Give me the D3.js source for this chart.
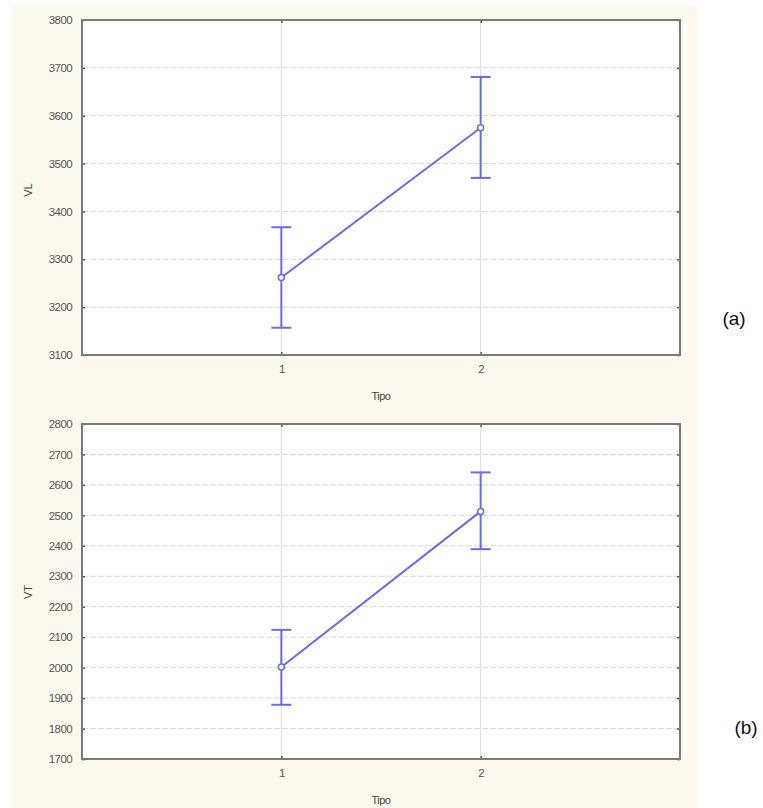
<!DOCTYPE html>
<html><head><meta charset="utf-8">
<script src="https://cdn.jsdelivr.net/npm/d3@7"></script>
<style>body{margin:0;background:#fff}svg{display:block}</style>
</head><body>
<script>
const categories = [1, 2];
const vlMeans = [3262, 3575];
const vlLow = [3157, 3470];
const vlHigh = [3367, 3681];
const vtMeans = [2002, 2513];
const vtLow = [1878, 2389];
const vtHigh = [2124, 2641];
const vlTicks = [3100,3200,3300,3400,3500,3600,3700,3800];
const vtTicks = [1700,1800,1900,2000,2100,2200,2300,2400,2500,2600,2700,2800];

const W = 763, H = 808;
const svg = d3.select("body").append("svg").attr("width", W).attr("height", H);

const panels = [
  {bg:[12,6,685,402], plot:[82,20,680,355], dom:[3100,3800], ticks:vlTicks, m:vlMeans, lo:vlLow, hi:vlHigh, ylab:"VL", xlabY:400, tickY:373, tag:"(a)", tagX:734, tagY:325, ylabY:190},
  {bg:[12,408,685,400], plot:[82,424,680,759], dom:[1700,2800], ticks:vtTicks, m:vtMeans, lo:vtLow, hi:vtHigh, ylab:"VT", xlabY:804, tickY:777, tag:"(b)", tagX:746, tagY:734, ylabY:592}
];

const blue = "#6b6bea";
panels.forEach(p => {
  const g = svg.append("g");
  g.append("rect").attr("x",p.bg[0]).attr("y",p.bg[1]).attr("width",p.bg[2]).attr("height",p.bg[3]).attr("fill","#fdf9ef");
  const [x0,y0,x1,y1] = p.plot;
  g.append("rect").attr("x",x0).attr("y",y0).attr("width",x1-x0).attr("height",y1-y0).attr("fill","#fff");
  const x = d3.scaleLinear().domain([0,3]).range([x0,x1]);
  const y = d3.scaleLinear().domain(p.dom).range([y1,y0]);
  // grid
  g.selectAll(".hg").data(p.ticks.slice(1,-1)).join("line")
    .attr("x1",x0).attr("x2",x1).attr("y1",d=>y(d)).attr("y2",d=>y(d))
    .attr("stroke","#d8d8d8").attr("stroke-width",1).attr("stroke-dasharray","6,2");
  g.selectAll(".vg").data(categories).join("line")
    .attr("x1",d=>x(d)).attr("x2",d=>x(d)).attr("y1",y0).attr("y2",y1)
    .attr("stroke","#dcdcdc").attr("stroke-width",1);
  // axes
  const yl = g.append("g").attr("transform",`translate(${x0},0)`)
    .call(d3.axisLeft(y).tickValues(p.ticks).tickSize(-3).tickPadding(10).tickFormat(d3.format("d")));
  const yr = g.append("g").attr("transform",`translate(${x1},0)`)
    .call(d3.axisRight(y).tickValues(p.ticks).tickSize(-3).tickFormat(""));
  const xb = g.append("g").attr("transform",`translate(0,${y1})`)
    .call(d3.axisBottom(x).tickValues(categories).tickSize(-3).tickPadding(10).tickFormat(d3.format("d")));
  const xt = g.append("g").attr("transform",`translate(0,${y0})`)
    .call(d3.axisTop(x).tickValues(categories).tickSize(-3).tickFormat(""));
  [yl,yr,xb,xt].forEach(a => {
    a.select(".domain").remove();
    a.selectAll(".tick line").attr("stroke","#555").attr("stroke-width",1.5);
    a.selectAll("text").attr("fill","#555").style("font-family","'Liberation Sans', Arial, sans-serif").style("font-size","11.5px").attr("letter-spacing","-0.6");
  });
  // frame
  g.append("rect").attr("x",x0).attr("y",y0).attr("width",x1-x0).attr("height",y1-y0)
    .attr("fill","none").attr("stroke","#7a7a7a").attr("stroke-width",2);
  // axis labels
  g.append("text").attr("x",(x0+x1)/2).attr("y",p.xlabY).attr("text-anchor","middle")
    .attr("fill","#444").style("font-family","'Liberation Sans', Arial, sans-serif").style("font-size","11px").attr("letter-spacing","-0.5").text("Tipo");
  g.append("text").attr("transform",`translate(32,${p.ylabY}) rotate(-90)`).attr("text-anchor","middle")
    .attr("fill","#444").style("font-family","'Liberation Sans', Arial, sans-serif").style("font-size","11px").text(p.ylab);
  // data
  const line = d3.line().x((d,i)=>x(categories[i])).y(d=>y(d));
  g.append("path").datum(p.m).attr("d",line).attr("fill","none").attr("stroke",blue).attr("stroke-width",2);
  categories.forEach((c,i) => {
    g.append("line").attr("x1",x(c)).attr("x2",x(c)).attr("y1",y(p.lo[i])).attr("y2",y(p.hi[i])).attr("stroke",blue).attr("stroke-width",2);
    [p.lo[i],p.hi[i]].forEach(v => g.append("line").attr("x1",x(c)-10).attr("x2",x(c)+10).attr("y1",y(v)).attr("y2",y(v)).attr("stroke",blue).attr("stroke-width",2));
    g.append("circle").attr("cx",x(c)).attr("cy",y(p.m[i])).attr("r",3).attr("fill","#fff").attr("stroke",blue).attr("stroke-width",1.5);
  });
  svg.append("text").attr("x",p.tagX).attr("y",p.tagY).attr("text-anchor","middle")
    .style("font-family","'Liberation Sans', Arial, sans-serif").style("font-size","19px").attr("fill","#111").text(p.tag);
});
</script>
</body></html>
